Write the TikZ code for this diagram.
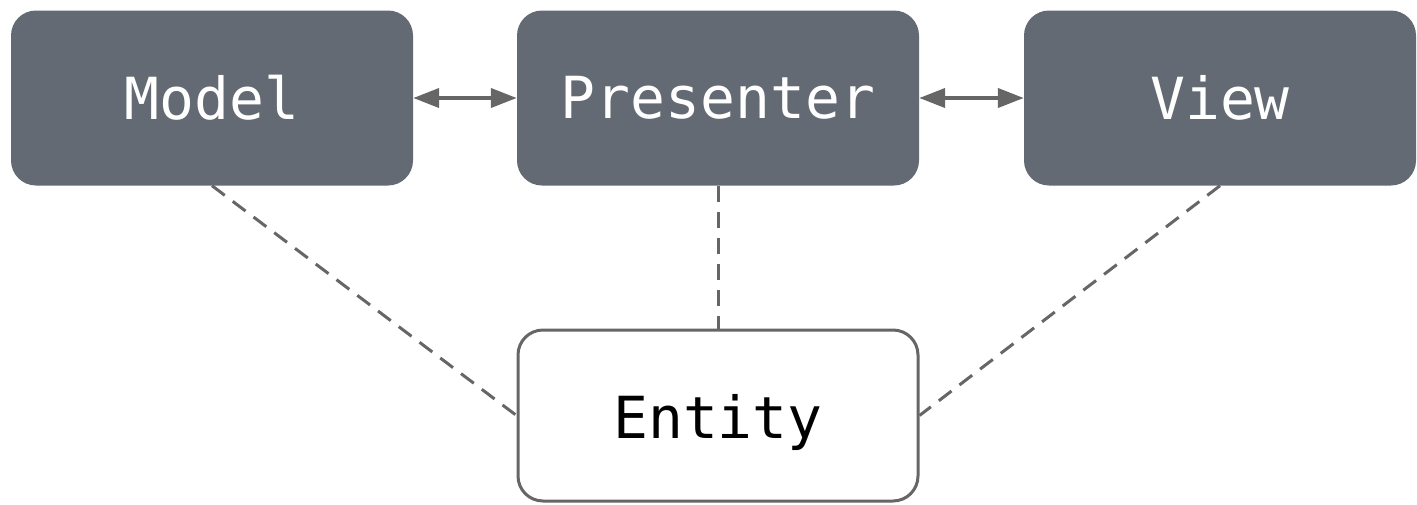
\documentclass[tikz,border=0pt]{standalone}
\usepackage{fontspec}
\setmonofont{DejaVu Sans Mono}
\usetikzlibrary{arrows.meta}
\definecolor{boxfill}{HTML}{636A73}
\definecolor{linegray}{HTML}{666666}
\begin{document}
\begin{tikzpicture}[x=1pt,y=-1pt,
  label font/.style={font=\ttfamily\fontsize{58}{62}\selectfont},
  darkbox/.style={fill=boxfill, rounded corners=25pt, minimum width=402pt, minimum height=175pt,
    text=white, label font, inner sep=0pt},
  lightbox/.style={draw=linegray, line width=3pt, fill=white, rounded corners=25pt,
    minimum width=400pt, minimum height=171pt, text=black, label font, inner sep=0pt},
  link/.style={draw=linegray, line width=4pt, {Triangle[length=26pt,width=19pt]}-{Triangle[length=26pt,width=19pt]}},
  dep/.style={draw=linegray, line width=3pt, dash pattern=on 16pt off 10pt}]
\useasboundingbox (0,0) rectangle (1417,504);
\node[darkbox] (model) at (212,98) {Model};
\node[darkbox] (presenter) at (718,98) {Presenter};
\node[darkbox, minimum width=392pt] (view) at (1220,98) {View};
\node[lightbox] (entity) at (718,415.5) {\raisebox{-7pt}[\height][\depth]{Entity}};
\draw[link] (model.east) -- (presenter.west);
\draw[link] (presenter.east) -- (view.west);
\draw[dep] (model.south) -- (entity.west);
\draw[dep] (presenter.south) -- (entity.north);
\draw[dep] (view.south) -- (entity.east);
\end{tikzpicture}
\end{document}
